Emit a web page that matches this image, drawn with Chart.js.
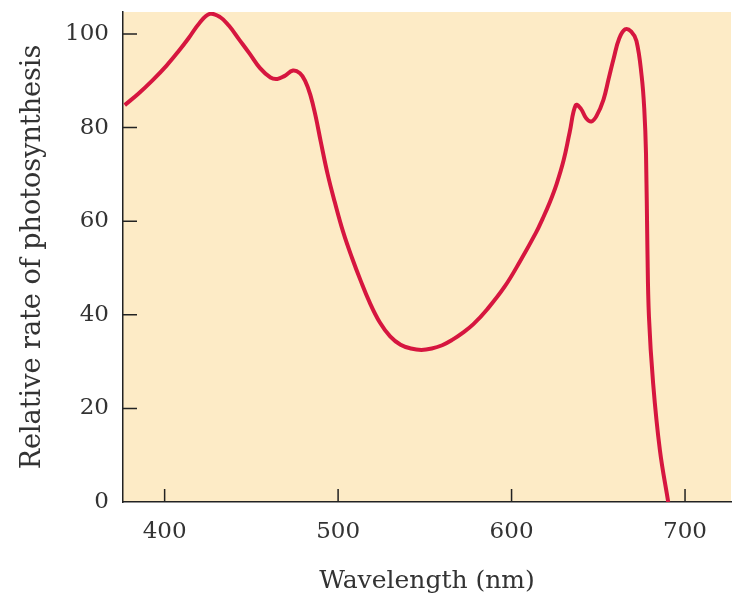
<!DOCTYPE html>
<html>
<head>
<meta charset="utf-8">
<script src="https://cdn.jsdelivr.net/npm/chart.js@4"></script>
<style>
  body { margin: 0; background: #fff; }
</style>
</head>
<body>
<canvas id="photoChart" width="743" height="611"></canvas>
<script>
// action spectrum
const wavelengths = [377, 385, 393, 401, 408, 414, 420, 426, 432, 437, 443, 449, 455, 461, 465, 469, 474, 478, 481, 484,
    487, 490, 494, 498, 503, 508, 513, 518, 524, 530, 536, 542, 548, 554, 560, 566, 572, 578, 586, 596,
    605, 614, 618, 622, 626, 630, 633.5, 637, 640, 643, 646, 649, 653, 656, 659, 662, 665.5, 669, 672, 675,
    676.5, 677.5, 678.3, 679.2, 681.6, 685.5, 690.3];
const rates = [84.8, 87.3, 90.1, 93.2, 96.3, 99.2, 102.3, 104.3, 103.6, 101.8, 98.8, 95.8, 92.7, 90.7, 90.4, 91.0, 92.2, 91.6, 90.0, 87.0,
    82.5, 77.0, 70.0, 64.2, 57.6, 52.2, 47.3, 42.8, 38.4, 35.4, 33.6, 32.8, 32.5, 32.8, 33.5, 34.7, 36.2, 38.0, 41.2, 46.0,
    51.5, 57.5, 60.6, 64.0, 68.0, 73.0, 79.0, 84.8, 84.0, 82.0, 81.3, 82.5, 86.0, 90.5, 95.0, 99.0, 101.0, 100.5, 98.5, 91.0,
    84.0, 74.5, 54.5, 39.6, 25.4, 11.1, 0];

const xTicks = [400, 500, 600, 700];
const yTicks = [0, 20, 40, 60, 80, 100];

const textColor = '#333';
const serif = "'DejaVu Serif', serif";

const points = wavelengths.map((w, i) => ({ x: w, y: rates[i] }));

const paperPlugin = {
    id: 'paper',
    beforeDraw(chart) {
        const { ctx, chartArea } = chart;
        ctx.save();
        ctx.fillStyle = '#fdebc6';
        ctx.fillRect(chartArea.left, chartArea.top, chartArea.right - chartArea.left, chartArea.bottom - chartArea.top);
        ctx.restore();
    },
    afterDraw(chart) {
        // tick marks point into the plot
        const { ctx, chartArea, scales } = chart;
        ctx.save();
        ctx.strokeStyle = '#222';
        ctx.lineWidth = 1.5;
        ctx.beginPath();
        xTicks.forEach((v) => {
            const px = scales.x.getPixelForValue(v);
            ctx.moveTo(px, chartArea.bottom);
            ctx.lineTo(px, chartArea.bottom - 13);
        });
        yTicks.forEach((v) => {
            if (v === 0) return;
            const py = scales.y.getPixelForValue(v);
            ctx.moveTo(chartArea.left, py);
            ctx.lineTo(chartArea.left + 14, py);
        });
        ctx.stroke();
        ctx.restore();
    }
};

new Chart(document.getElementById('photoChart'), {
    type: 'line',
    data: {
        datasets: [{
            data: points,
            borderColor: '#d6163f',
            borderWidth: 4,
            pointRadius: 0,
            fill: false,
            tension: 0.4,
        }]
    },
    options: {
        responsive: false,
        animation: false,
        layout: { padding: { top: 12, right: 12, left: 0, bottom: 0 } },
        plugins: {
            legend: { display: false },
            tooltip: { enabled: false },
        },
        scales: {
            x: {
                type: 'linear',
                min: 376,
                max: 726.5,
                afterBuildTicks: (scale) => { scale.ticks = xTicks.map((v) => ({ value: v })); },
                afterFit: (scale) => {
                    scale.height = 109;
                    scale.paddingLeft = 0;
                    scale.paddingRight = 0;
                },
                grid: { display: false, drawTicks: false },
                border: { display: true, color: '#222', width: 1.5 },
                ticks: {
                    padding: 16,
                    color: textColor,
                    font: { family: serif, size: 23 },
                },
                title: {
                    display: true,
                    text: 'Wavelength (nm)',
                    color: textColor,
                    font: { family: serif, size: 25 },
                    padding: { top: 0, bottom: 15 },
                },
            },
            y: {
                min: 0,
                max: 104.7,
                afterBuildTicks: (scale) => { scale.ticks = yTicks.map((v) => ({ value: v })); },
                afterFit: (scale) => {
                    scale.width = 123;
                    scale.paddingTop = 0;
                    scale.paddingBottom = 0;
                },
                grid: { display: false, drawTicks: false },
                border: { display: true, color: '#222', width: 1.5 },
                ticks: {
                    padding: 14,
                    color: textColor,
                    font: { family: serif, size: 23 },
                },
                title: {
                    display: true,
                    text: 'Relative rate of photosynthesis',
                    color: textColor,
                    font: { family: serif, size: 27 },
                    padding: { top: 17, bottom: 0 },
                },
            },
        },
    },
    plugins: [paperPlugin],
});
</script>
</body>
</html>
